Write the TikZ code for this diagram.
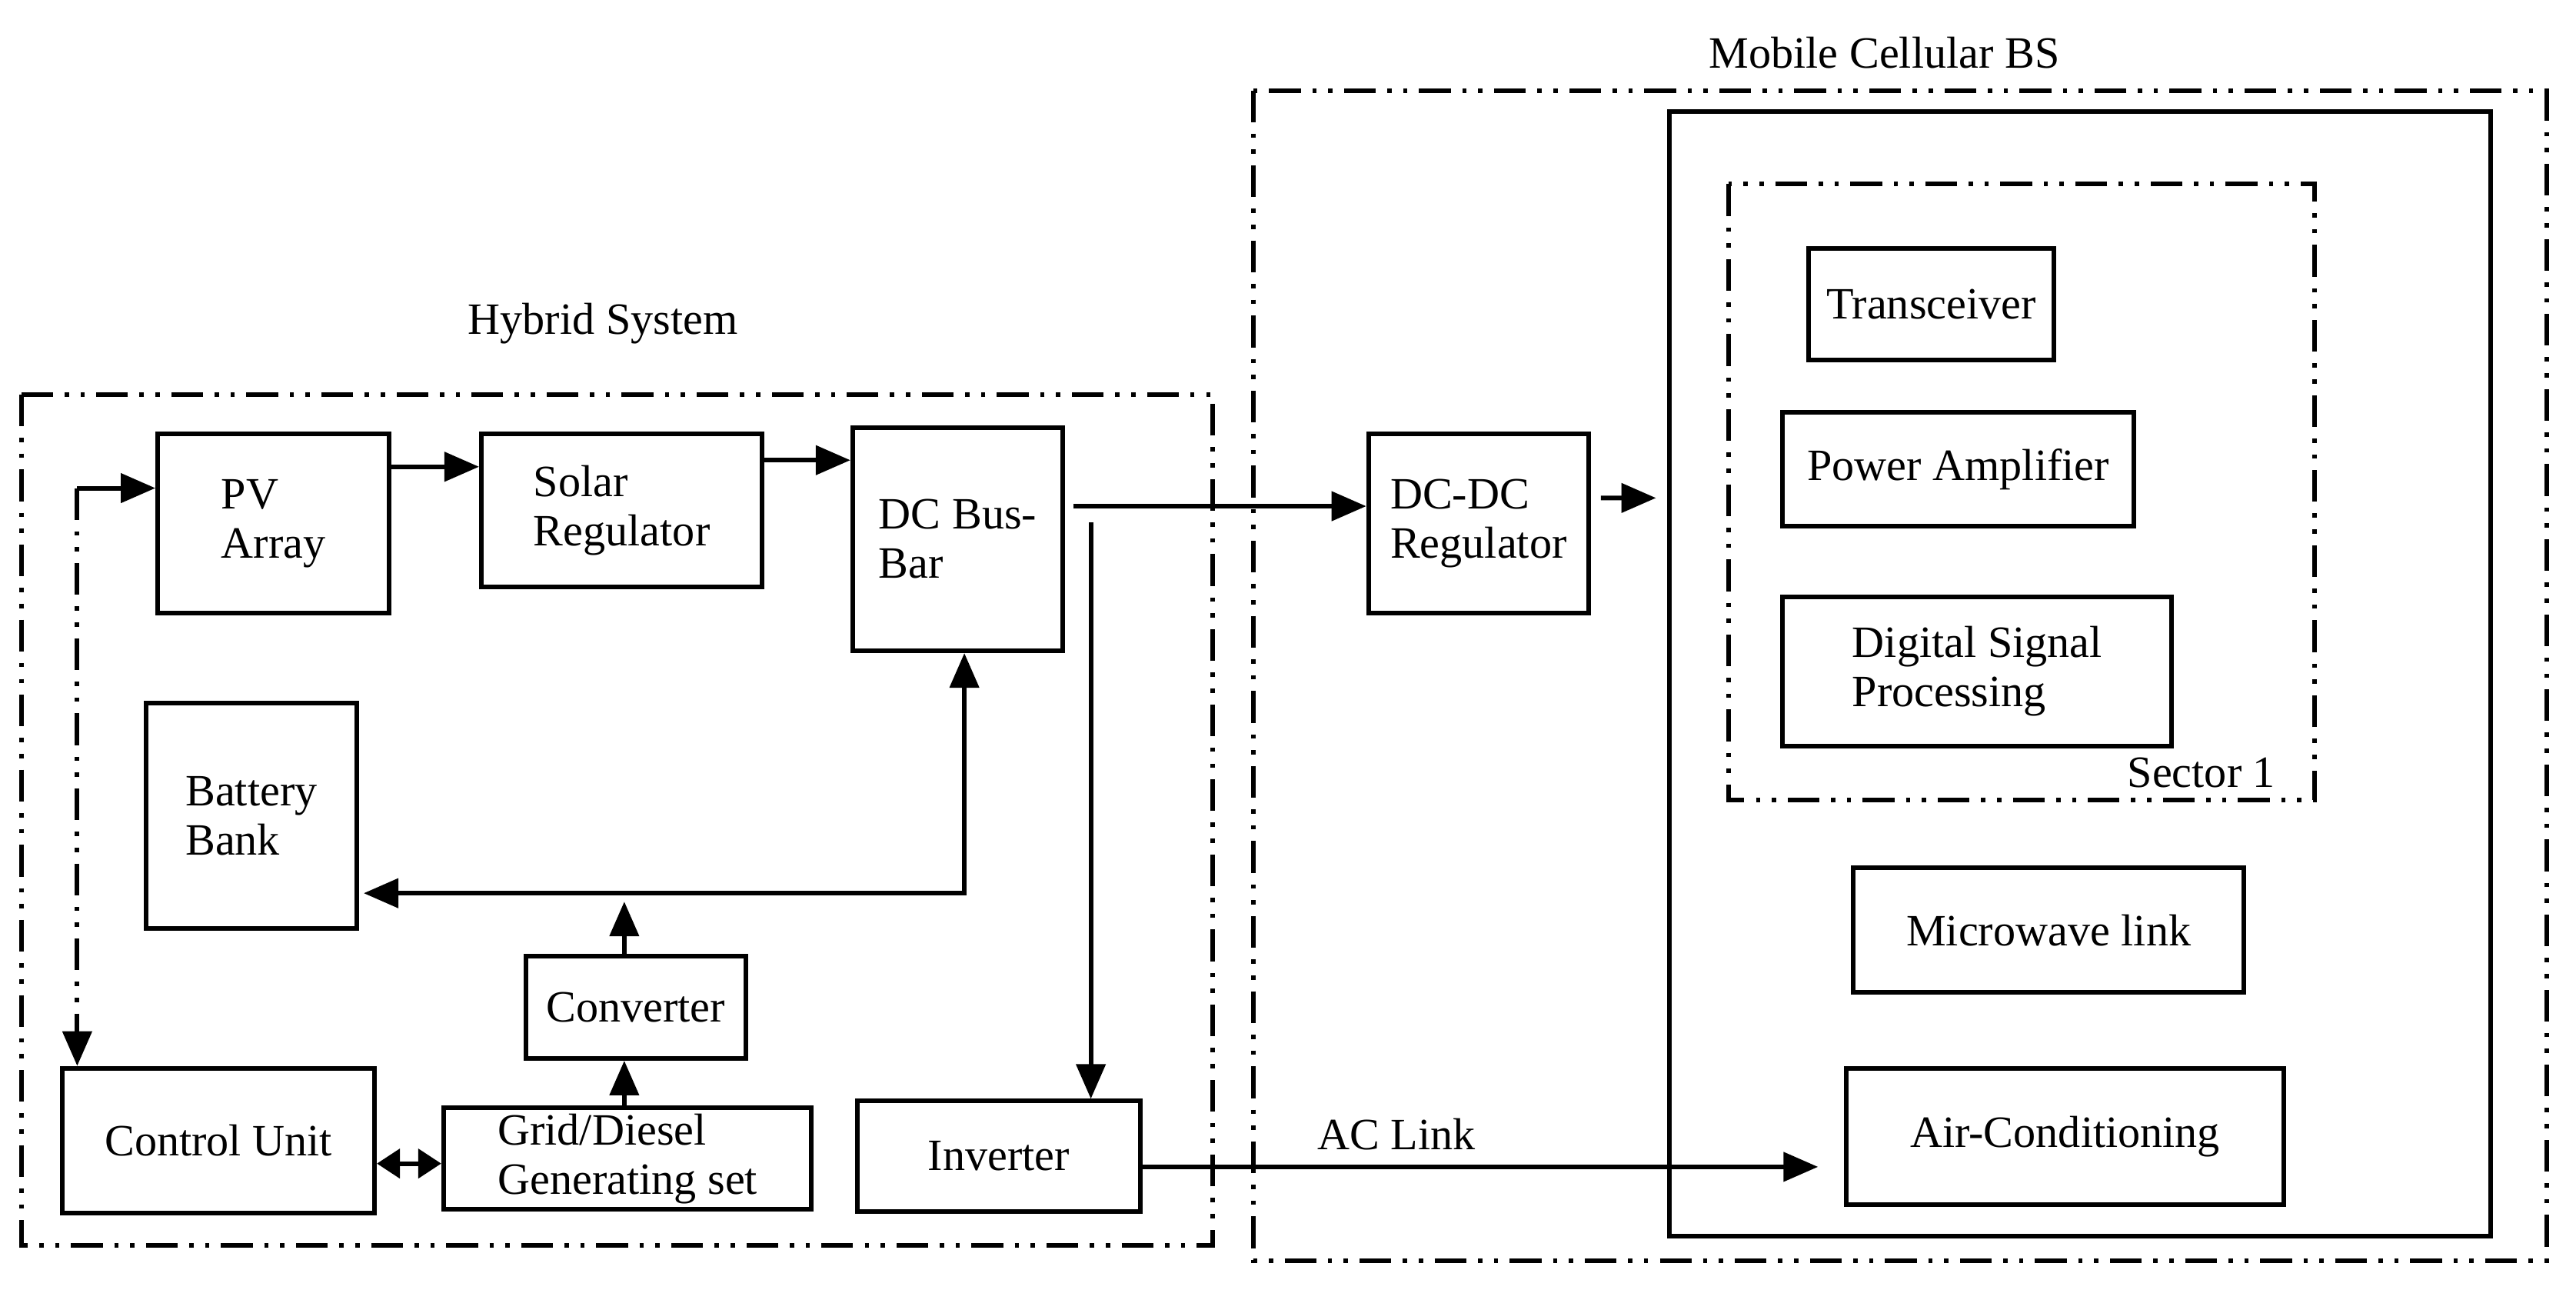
\documentclass[tikz,border=0pt]{standalone}
\usepackage{fontspec}
\setmainfont{Liberation Serif}
\usetikzlibrary{arrows.meta}

\begin{document}
\begin{tikzpicture}[x=0.02cm,y=-0.02cm,line width=1.6pt,
  every node/.style={font=\fontsize{15.5}{17}\selectfont},
  box/.style={draw,align=left,inner sep=2pt},
  dd/.style={dash pattern={on 11pt off 4pt on 1.5pt off 4pt on 1.5pt off 4pt}},
  arr/.style={-{Triangle[length=12pt,width=10pt]}},
  both/.style={{Triangle[length=12pt,width=10pt]}-{Triangle[length=12pt,width=10pt]}},
  short both/.style={{Triangle[length=8pt,width=10pt]}-{Triangle[length=8pt,width=10pt]}}]
\useasboundingbox (0,0) rectangle (1568,791);

%Shape: frames
\draw[dd] (13,240) rectangle (738,758);
\draw[dd] (763,55) rectangle (1550,767);
\draw (1016,68) rectangle (1516,752);
\draw[dd] (1052,112) rectangle (1409,487);

% Text Node
\node (hyb) at (367,197) {Hybrid System};
\node (mob) at (1147,32) {Mobile Cellular BS};
\node (sec) at (1340,470) {Sector 1};
\node (acl) at (850,690) {AC Link};

%Shape: blocks
\node[box,minimum width=2.82cm,minimum height=2.18cm] (PV) at (166.5,318.5) {PV\\Array};
\node[box,minimum width=3.42cm,minimum height=1.86cm] (Sol) at (378.5,310.5) {Solar\\Regulator};
\node[box,minimum width=2.56cm,minimum height=2.72cm] (Bus) at (583,328) {DC Bus-\\Bar};
\node[box,minimum width=2.56cm,minimum height=2.74cm] (Bat) at (153,496.5) {Battery\\Bank};
\node[box,minimum width=2.68cm,minimum height=1.24cm] (Conv) at (387,613) {Converter};
\node[box,minimum width=3.8cm,minimum height=1.76cm] (CU) at (133,694) {Control Unit};
\node[box,minimum width=4.48cm,minimum height=1.24cm] (Grid) at (382,705) {Grid/Diesel\\Generating set};
\node[box,minimum width=3.44cm,minimum height=1.34cm] (Inv) at (608,703.5) {Inverter};
\node[box,minimum width=2.68cm,minimum height=2.18cm] (DCDC) at (900,318.5) {DC-DC\\Regulator};
\node[box,minimum width=2.98cm,minimum height=1.36cm] (Trx) at (1175.5,185) {Transceiver};
\node[box,minimum width=4.28cm,minimum height=1.38cm] (PA) at (1192,285.5) {Power Amplifier};
\node[box,minimum width=4.74cm,minimum height=1.82cm] (DSP) at (1203.5,408.5) {Digital Signal\\Processing};
\node[box,minimum width=4.76cm,minimum height=1.52cm] (MW) at (1247,566) {Microwave link};
\node[box,minimum width=5.32cm,minimum height=1.66cm] (AC) at (1257,691.5) {Air-Conditioning};

\coordinate (ctl) at (47,297);
\coordinate (tap) at (664,318);
\coordinate (bsin) at (1008,303);

%Straight Lines
\draw[arr] (ctl) -- (ctl -| PV.west);
\draw[dd,arr] (ctl) -- (ctl |- CU.north);
\draw[arr] ([yshift=0.69cm]PV.east) -- ([yshift=0.69cm]PV.east -| Sol.west);
\draw[arr] ([yshift=0.61cm]Sol.east) -- ([yshift=0.61cm]Sol.east -| Bus.west);
\draw[arr] ([xshift=0.1cm,yshift=0.4cm]Bus.east) -- ([yshift=0.4cm]Bus.east -| DCDC.west);
\draw[arr] ([xshift=0.12cm,yshift=0.31cm]DCDC.east) -- (bsin);
\draw[arr] (tap) -- (tap |- Inv.north);
\draw[both] ([yshift=-0.94cm,xshift=0.06cm]Bat.east) -| ([xshift=0.08cm]Bus.south);
\draw[arr] ([xshift=-0.14cm]Conv.north) -- ++(0,-32);
\draw[arr] ([xshift=-0.04cm]Grid.north) -- ([xshift=-0.04cm]Grid.north |- Conv.south);
\draw[short both] ([yshift=-0.28cm]CU.east) -- ([yshift=-0.28cm]CU.east -| Grid.west);
\draw[arr] ([yshift=-0.13cm]Inv.east) -- ([yshift=-0.13cm,xshift=-0.32cm]Inv.east -| AC.west);

\end{tikzpicture}
\end{document}
